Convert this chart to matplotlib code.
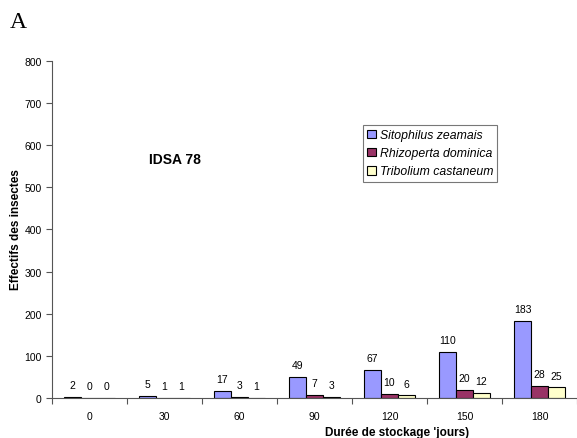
import numpy as np
import matplotlib.pyplot as plt

# Data
days = ['0', '30', '60', '90', '120', '150', '180']
sitophilus = [2, 5, 17, 49, 67, 110, 183]
rhizoperta = [0, 1, 3, 7, 10, 20, 28]
tribolium = [0, 1, 1, 3, 6, 12, 25]

series = [('Sitophilus zeamais', sitophilus, '#9999FF'),
          ('Rhizoperta dominica', rhizoperta, '#993366'),
          ('Tribolium castaneum', tribolium, '#FFFFCC')]

plt.rcParams['font.family'] = ['Liberation Sans', 'DejaVu Sans']

fig = plt.figure(figsize=(5.77, 4.39), dpi=100)
ax = fig.add_axes([0.090, 0.0911, 0.910, 0.7677])

x = np.arange(len(days))
w = 0.227
for k, (name, vals, col) in enumerate(series):
    pos = x + (k - 1) * w
    ax.bar(pos, vals, width=w, color=col, edgecolor='black', linewidth=0.8, label=name)
    for p, v in zip(pos, vals):
        ax.annotate(str(v), (p, v), xytext=(0, 5), textcoords='offset points',
                    ha='center', va='bottom', fontsize=7.5)

ax.set_xlim(-0.5, len(days) - 0.5)
ax.set_ylim(0, 800)
ax.set_yticks(range(0, 801, 100))
ax.tick_params(axis='y', labelsize=7.5, length=4, width=0.8, color='#555555')
ax.set_xticks(x)
ax.set_xticklabels(days, fontsize=7.5)
ax.tick_params(axis='x', length=0, pad=9)
ax.set_xticks(np.arange(-0.5, len(days), 1), minor=True)
ax.tick_params(axis='x', which='minor', length=4, width=0.8, color='#555555')

for s in ['top', 'right']:
    ax.spines[s].set_visible(False)
for s in ['left', 'bottom']:
    ax.spines[s].set_color('#555555')
    ax.spines[s].set_linewidth(0.8)

# axis labels placed as in the original
fig.text(16 / 577, 1 - 230 / 439, 'Effectifs des insectes', fontsize=8.5,
         fontweight='bold', rotation=90, ha='center', va='center')
fig.text(397 / 577, 1 - 433 / 439, "Durée de stockage 'jours)", fontsize=8.5,
         fontweight='bold', ha='center', va='center')
fig.text(175 / 577, 1 - 160 / 439, 'IDSA 78', fontsize=10, fontweight='bold',
         ha='center', va='center')
fig.text(10 / 577, 1 - 22 / 439, 'A', fontsize=17, family='Liberation Serif',
         ha='left', va='center')

leg = ax.legend(loc='upper left', bbox_to_anchor=(363 / 577, 1 - 126 / 439),
                bbox_transform=fig.transFigure, frameon=True, fancybox=False,
                prop={'style': 'italic', 'size': 8.8},
                handlelength=0.7, handleheight=0.7, handletextpad=0.3,
                labelspacing=0.5, borderpad=0.35, borderaxespad=0)
leg.get_frame().set_edgecolor('#555555')
leg.get_frame().set_linewidth(0.8)

fig.savefig('out.png', dpi=100)
